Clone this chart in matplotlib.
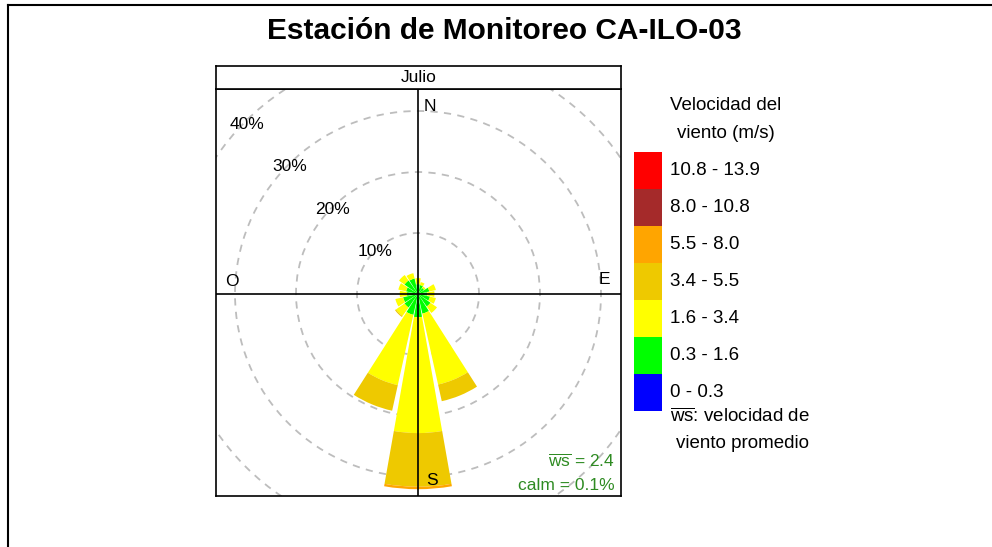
import numpy as np
import matplotlib
matplotlib.use("Agg")
import matplotlib.pyplot as plt
from matplotlib.patches import Wedge, Circle
from matplotlib.lines import Line2D

plt.rcParams['font.family'] = ['Liberation Sans', 'DejaVu Sans']
plt.rcParams['mathtext.fontset'] = 'custom'
plt.rcParams['mathtext.rm'] = 'Liberation Sans'
plt.rcParams['mathtext.it'] = 'Liberation Sans:italic'

# wind directions (degrees, clockwise from north)
directions = [0, 22.5, 45, 67.5, 90, 112.5, 135, 157.5,
              180, 202.5, 225, 247.5, 270, 292.5, 315, 337.5]

speed_labels = ['0 - 0.3', '0.3 - 1.6', '1.6 - 3.4', '3.4 - 5.5',
                '5.5 - 8.0', '8.0 - 10.8', '10.8 - 13.9']
speed_colors = ['#0000FF', '#00FF00', '#FFFF00', '#EEC900',
                '#FFA500', '#A52A2A', '#FF0000']

# frequency (%) of each speed bin per direction
freq_0_03 = [0.1, 0.1, 0.1, 0.1, 0.2, 0.1, 0.1, 0.1,
             0.1, 0.1, 0.1, 0.1, 0.1, 0.1, 0.1, 0.1]
freq_03_16 = [1.5, 1.4, 1.1, 1.8, 1.3, 1.9, 2.4, 3.2,
              3.7, 3.4, 2.6, 2.4, 1.7, 1.9, 2.6, 2.5]
freq_16_34 = [1.0, 0.5, 0.3, 1.1, 1.2, 1.0, 1.3, 11.9,
              19.0, 11.8, 1.7, 1.3, 1.2, 1.3, 1.1, 0.9]
freq_34_55 = [0.0, 0.0, 0.0, 0.0, 0.0, 0.0, 0.0, 2.8,
              8.8, 4.3, 0.2, 0.0, 0.0, 0.0, 0.0, 0.0]
freq_55_80 = [0.0, 0.0, 0.0, 0.0, 0.0, 0.0, 0.0, 0.0,
              0.4, 0.0, 0.0, 0.0, 0.0, 0.0, 0.0, 0.0]
freq_80_108 = [0.0] * 16
freq_108_139 = [0.0] * 16

freqs = [freq_0_03, freq_03_16, freq_16_34, freq_34_55,
         freq_55_80, freq_80_108, freq_108_139]

grid_pct = [10, 20, 30, 40]
mean_ws = 2.4
calm = 0.1

W, H = 992, 547
fig = plt.figure(figsize=(W / 100, H / 100), dpi=100)

# outer frame (top and left edges of the original image)
fig.add_artist(Line2D([8 / W, 1], [1 - 5 / H, 1 - 5 / H], transform=fig.transFigure,
                      color='black', lw=1.5))
fig.add_artist(Line2D([8 / W, 8 / W], [0, 1 - 5 / H], transform=fig.transFigure,
                      color='black', lw=1.5))

fig.text(504 / W, 1 - 31 / H, 'Estación de Monitoreo CA-ILO-03',
         ha='center', va='center', fontsize=21.5, fontweight='bold')

# rose panel
px = 6.1  # pixels per percent
ax = fig.add_axes([216 / W, 51 / H, 405 / W, 407 / H])
ax.set_xlim(-202 / px, 203 / px)
ax.set_ylim(-202 / px, 205 / px)
ax.set_xticks([])
ax.set_yticks([])
for s in ax.spines.values():
    s.set_linewidth(1.2)

for r in grid_pct:
    ax.add_patch(Circle((0, 0), r, fill=False, ls=(0, (4, 3.5)),
                        color='#BDBDBD', lw=1.3, zorder=1))
    ax.text(-0.99 * r / np.sqrt(2), 0.985 * r / np.sqrt(2), f'{r}%',
            ha='center', va='center', fontsize=12.5, zorder=5)

half = 10
for i, d in enumerate(directions):
    bottom = 0
    for vals, col in zip(freqs, speed_colors):
        v = vals[i]
        if v <= 0:
            continue
        ax.add_patch(Wedge((0, 0), bottom + v, 90 - d - half, 90 - d + half,
                           width=v, facecolor=col, edgecolor='none', zorder=2))
        bottom += v

ax.axhline(0, color='black', lw=1.2, zorder=3)
ax.axvline(0, color='black', lw=1.2, zorder=3)

ax.text(2.0, 30.8, 'N', ha='center', va='center', fontsize=12.5, zorder=5)
ax.text(2.3, -30.5, 'S', ha='center', va='center', fontsize=12.5, zorder=5)
ax.text(30.5, 2.3, 'E', ha='center', va='center', fontsize=12.5, zorder=5)
ax.text(-30.5, 2.1, 'O', ha='center', va='center', fontsize=12.5, zorder=5)

ax.text(0.985, 0.084, r'$\overline{\mathrm{ws}}$ = ' + f'{mean_ws}', transform=ax.transAxes,
        ha='right', va='center', fontsize=12.5, color='#2E8B22', zorder=5)
ax.text(0.985, 0.027, f'calm = {calm}%', transform=ax.transAxes,
        ha='right', va='center', fontsize=12.5, color='#2E8B22', zorder=5)

# strip with month name
sax = fig.add_axes([216 / W, (H - 89) / H, 405 / W, 23 / H])
sax.set_xticks([])
sax.set_yticks([])
for s in sax.spines.values():
    s.set_linewidth(1.2)
sax.text(0.5, 0.5, 'Julio', ha='center', va='center', fontsize=12.5,
         transform=sax.transAxes)

# colour key
lax = fig.add_axes([634 / W, (H - 411) / H, 28 / W, 259 / H])
lax.bar(np.zeros(len(speed_labels)), np.ones(len(speed_labels)),
        bottom=np.arange(len(speed_labels)), width=1.0, color=speed_colors)
lax.set_xlim(-0.5, 0.5)
lax.set_ylim(0, len(speed_labels))
lax.axis('off')
for k, lab in enumerate(speed_labels):
    lax.text(0.5 + 8 / 28, k + 0.5, lab, ha='left', va='center', fontsize=13.5,
             clip_on=False)

fig.text(726 / W, 1 - 105 / H, 'Velocidad del', ha='center', va='center', fontsize=13.5)
fig.text(726 / W, 1 - 133 / H, 'viento (m/s)', ha='center', va='center', fontsize=13.5)
fig.text(740 / W, 1 - 417 / H, r'$\overline{\mathrm{ws}}$: velocidad de',
         ha='center', va='center', fontsize=13.5)
fig.text(742 / W, 1 - 443 / H, 'viento promedio', ha='center', va='center', fontsize=13.5)

fig.savefig('out.png', dpi=100)
